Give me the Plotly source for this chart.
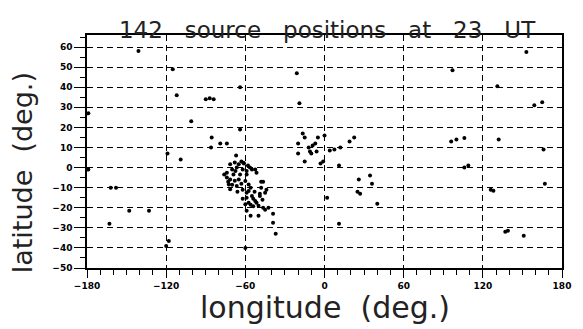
import plotly.graph_objects as go

# ---- data (longitude, latitude in degrees) ----
scatter_lon = [-141, -115, -112, -90, -87, -84, -101, -85.5, -79, -74, -86, -67, -119, -109, -64, -64, -179, -61,
               -21, -19, -16.5, -15, -5, 0, 22.5, 19, 12, 7.5, 4, -12, -9, -6, -10, -7, -20, -20, -15, -3, 11, -1, -11,
               26, 34.5, 36, 25, 27, 40, 11, 2,
               -179, -162, -158, -148, -133, -163, -118, -120, -60,
               153, 97, 131, 165, 159, 96, 100, 106, 132, 166, 109, 106, 126, 128, 167, 139, 137, 151,
               -48, -50, -56, -39, -39, -37, -45, -59, -46.5]
scatter_lat = [58, 49, 36, 34, 34.5, 34, 23, 15, 12, 12, 10, 6, 7, 4, 40, 19, 27, 2,
               47, 32, 17, 15, 15, 16, 15, 13, 10, 9, 8.5, 10, 11, 8, 7, 12, 12, 7, 3, 2, 1, 3, 8,
               -6, -4, -8, -12, -13, -18, -28, -15,
               -1, -10, -10, -21.5, -21.5, -28, -36.5, -39, -40,
               57.5, 48.5, 40.5, 32.5, 31, 13, 14, 14.7, 14, 9, 1, 0, -11, -11.5, -8, -31.5, -32, -34,
               -7, -24, -24, -23, -27.5, -33, -21, -21.5, -7]

cluster_lon = [-71.5, -66.5, -64, -69, -74, -71.5, -72.5, -71.5, -61.5, -59, -60, -57.5, -67.5, -65, -59, -55,
               -51.5, -57.5, -55, -52.5, -49, -45, -60, -54, -46.5, -59, -74, -70, -65, -66.5, -73, -59, -54,
               -49, -44, -57.5, -51.5, -42.5, -62, -52.5, -56.5, -68, -63, -68, -56, -50, -47, -62, -56, -70,
               -66, -62, -53, -48, -76, -63, -58]
cluster_lat = [1.6, 0, -3.4, -3.4, -2.6, -5.9, -8.4, -10.8, 2.4, -3.4, -6.7, -8.4, -1.7, 1.6, -1.7, -0.9,
               -2.6, -11.7, -14.2, -16.7, -14.2, -12.5, -18.3, -19.2, -20, -15, -5, -1, -5.9, -9.2, -7, -12.5,
               -15.5, -13, -11, -17.5, -17.5, -20, -1, -1, 0, 2.5, -8, -6.5, -10, -19, -16, -15.5, -18.5, -8.5,
               -12, -11, -12, -10, -3.5, 3, 1]

lon = scatter_lon + cluster_lon
lat = scatter_lat + cluster_lat

x_ticks = [-180, -120, -60, 0, 60, 120, 180]
y_ticks = [-50, -40, -30, -20, -10, 0, 10, 20, 30, 40, 50, 60]

NB = "\u00a0"
title_text = f"{len(lon)} source positions at 23 UT".replace(" ", NB * 3)

fig = go.Figure()
fig.add_trace(go.Scatter(x=lon, y=lat, mode="markers",
                         marker=dict(color="black", size=4, line=dict(width=0)),
                         hoverinfo="skip", showlegend=False))

tickfont = dict(family="DejaVu Sans", size=9, color="black", weight="bold")

fig.update_xaxes(range=[-180, 180], tickmode="array", tickvals=x_ticks,
                 ticktext=[str(v).replace("-", "\u2212") for v in x_ticks],
                 showline=True, linecolor="black", linewidth=1.5, mirror=True,
                 ticks="outside", ticklen=8, tickwidth=1.3, tickcolor="black",
                 minor=dict(dtick=10, tick0=0, ticks="outside", ticklen=5, tickwidth=1.2,
                            tickcolor="black", showgrid=False),
                 showgrid=True, gridcolor="black", gridwidth=1.2, griddash="6px,4px",
                 zeroline=False, tickfont=tickfont)
fig.update_yaxes(range=[-50, 66], tickmode="array", tickvals=y_ticks,
                 ticktext=[str(v).replace("-", "\u2212") for v in y_ticks],
                 showline=True, linecolor="black", linewidth=1.5, mirror=True,
                 ticks="outside", ticklen=11, tickwidth=1.3, tickcolor="black",
                 minor=dict(dtick=5, tick0=0, ticks="outside", ticklen=5, tickwidth=1.2,
                            tickcolor="black", showgrid=False),
                 showgrid=True, gridcolor="black", gridwidth=1.2, griddash="6px,4px",
                 zeroline=False, tickfont=tickfont)

fig.update_layout(
    width=583, height=329,
    margin=dict(l=87, r=16, t=35, b=61),
    paper_bgcolor="white", plot_bgcolor="white",
    title=dict(text=title_text, x=0.561, xanchor="center", y=0.91, yanchor="middle",
               font=dict(family="DejaVu Sans", size=23, color="#222")),
    annotations=[
        dict(text=f"longitude{NB*2}(deg.)", xref="paper", yref="paper", x=0.5, y=-0.17,
             xanchor="center", yanchor="middle", showarrow=False,
             font=dict(family="DejaVu Sans", size=30, color="#222")),
        dict(text=f"latitude{NB*2}(deg.)", xref="paper", yref="paper", x=-0.135, y=0.41,
             xanchor="center", yanchor="middle", showarrow=False, textangle=-90,
             font=dict(family="DejaVu Sans", size=27, color="#222")),
    ],
)

fig.write_html("out.html")
